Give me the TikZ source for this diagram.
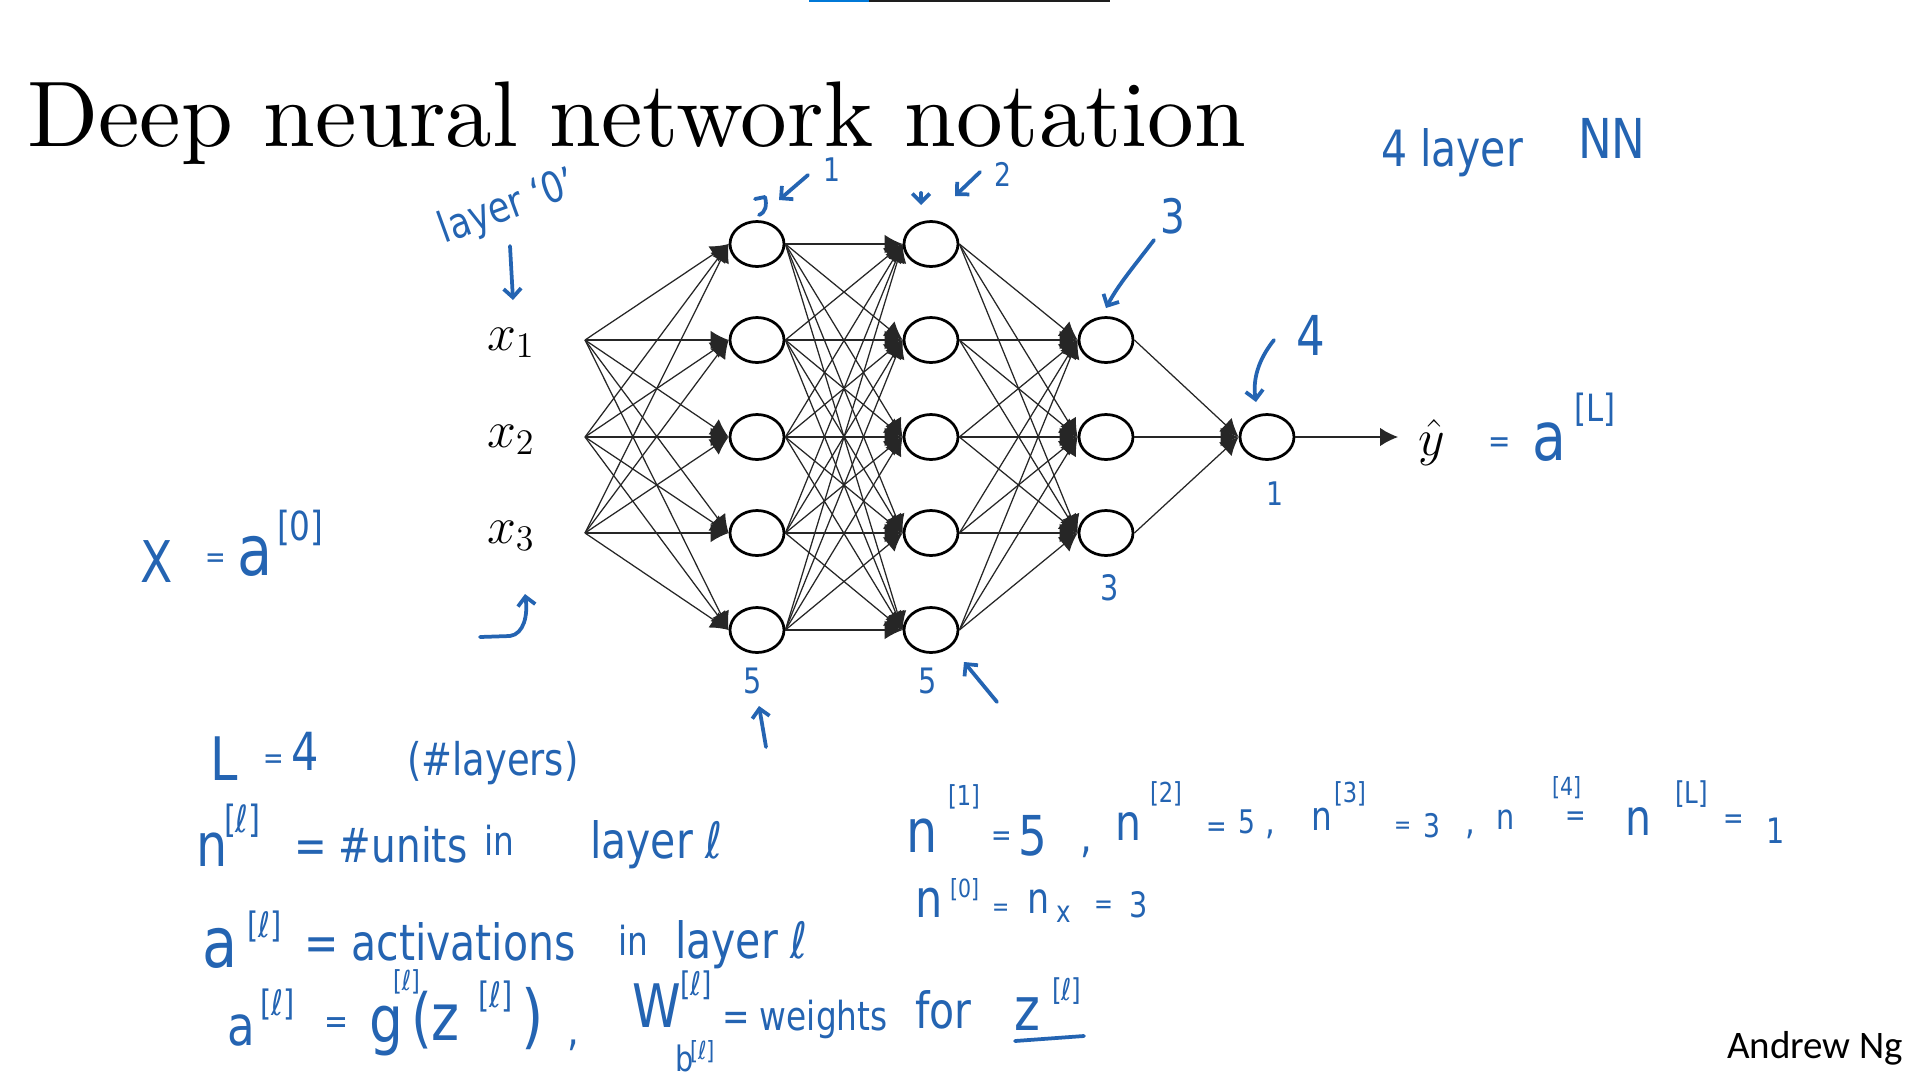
\documentclass[tikz,border=0pt]{standalone}
\usepackage{fontspec}
\usetikzlibrary{shapes.geometric,arrows.meta}
\newfontfamily\hwfontfam[FakeStretch=0.82]{DejaVu Sans}
\newfontfamily\ngfont{Carlito}
\newfontfamily\titlefont{lmroman10-regular.otf}
\definecolor{hwblue}{RGB}{36,100,178}
\definecolor{barblue}{RGB}{0,120,215}
\definecolor{bardark}{RGB}{30,30,30}
\newcommand\hwt[4]{\node[hw,font={\hwfontfam\fontsize{#3}{#3}\selectfont}] (#1) at (#2) {#4};}
\tikzset{
  hw/.style={text=hwblue, inner sep=0pt, outer sep=0pt, anchor=base west},
  neuron/.style={ellipse, draw, line width=1.1pt, minimum width=21.6pt, minimum height=18pt, inner sep=0pt, fill=white},
  edge/.style={draw=black!85, line width=0.5pt, -{Latex[length=7.2pt,width=7.4pt]}},
  hwline/.style={draw=hwblue, line width=1.5pt, line cap=round, line join=round},
  hwarrow/.style={hwline, -{Straight Barb[length=3.5pt,width=7pt]}},
  plain/.style={inner sep=0pt, outer sep=0pt, anchor=base west}
}
\begin{document}
\begin{tikzpicture}[x=0.4pt,y=-0.4pt]
\fill[white] (0,0) rectangle (1920,1080);
\useasboundingbox (0,0) rectangle (1920,1080);
% top bar
\fill[barblue] (809,0) rectangle (869,1.6);
\fill[bardark] (869,0) rectangle (1110,1.6);
% title
\node[plain, font=\titlefont\fontsize{37.3}{40}\selectfont] (title) at (27,146) {Deep neural network notation};
% inputs
\coordinate (in1) at (585,340);
\coordinate (in2) at (585,437);
\coordinate (in3) at (585,533);
\node[plain, font=\fontsize{20.74}{21}\selectfont] (x1) at (487,350) {$x_1$};
\node[plain, font=\fontsize{20.74}{21}\selectfont] (x2) at (487,447) {$x_2$};
\node[plain, font=\fontsize{20.74}{21}\selectfont] (x3) at (487,543) {$x_3$};
% neurons
\foreach \i/\y in {1/244,2/340,3/437,4/533,5/630} {
  \node[neuron] (a\i) at (757,\y) {};
  \node[neuron] (b\i) at (931,\y) {};
}
\node[neuron] (c1) at (1106,340) {};
\node[neuron] (c2) at (1106,437) {};
\node[neuron] (c3) at (1106,533) {};
\node[neuron] (d1) at (1267,437) {};
% edges
\foreach \s in {1,2,3} \foreach \t in {1,...,5} \draw[edge] (in\s) -- (a\t.west);
\foreach \s in {1,...,5} \foreach \t in {1,...,5} \draw[edge] (a\s.east) -- (b\t.west);
\foreach \s in {1,...,5} \foreach \t in {1,2,3} \draw[edge] (b\s.east) -- (c\t.west);
\foreach \s in {1,2,3} \draw[edge] (c\s.east) -- (d1.west);
\coordinate (yout) at (1398,437);
\draw[edge] (d1.east) -- (yout);
\node[plain, font=\fontsize{20.74}{21}\selectfont] (yhat) at (1418,455) {$\hat{y}$};
% handwriting: top
\hwt{fourlayer}{1381,166}{20}{4 layer}
\hwt{nn}{1578,158}{22}{NN}
\node[hw, anchor=center, rotate=20, font={\hwfontfam\fontsize{17}{17}\selectfont}] (layer0) at (508,208) {layer ‘0’};
\draw[hwarrow] (510,246) -- (513,300);
\hwt{lab1}{823,181}{13}{1}
\draw[hwarrow] (808,175) -- (779,200);
\draw[hwline] (755,199) -- (765,197) .. controls (767,205) and (766,212) .. (759,215);
\hwt{lab2}{994,186}{13}{2}
\draw[hwarrow] (980,172) -- (955,196);
\draw[hwarrow] (921,193) -- (921,205);
\hwt{lab3}{1160,233}{19}{3}
\draw[hwarrow] (1154,240) .. controls (1135,265) and (1118,285) .. (1106,308);
\hwt{lab4}{1296,355}{22}{4}
\draw[hwarrow] (1274,340) .. controls (1262,355) and (1252,375) .. (1256,402);
\hwt{labd}{1266,505}{13}{1}
\hwt{labc}{1100,600}{14}{3}
\hwt{laba}{743,693}{14}{5}
\draw[hwarrow] (766,747) -- (759,706);
\hwt{labb}{918,693}{14}{5}
\draw[hwarrow] (997,702) -- (964,662);
% X = a[0]
\hwt{xX}{140,582}{23}{X}
\hwt{xeq}{205,567}{12}{=}
\hwt{xa}{237,575}{28}{a}
\hwt{xsup}{277,540}{16}{[0]}
\draw[hwarrow] (480,637) -- (510,636) .. controls (524,634) and (528,615) .. (525,594);
% yhat = a[L]
\hwt{yeq}{1488,452}{13}{=}
\hwt{ya}{1532,460}{27}{a}
\hwt{ysup}{1574,421}{15}{[L]}
% L = 4 (#layers)
\hwt{Lv}{210,780}{24}{L}
\hwt{Leq}{263,768}{12}{=}
\hwt{L4}{291,770}{21}{4}
\hwt{Lpar}{407,775}{18}{(\#layers)}
% n[l] = #units in layer l
\hwt{nl}{196,866}{24}{n}
\hwt{nlsup}{224,832}{15}{[ℓ]}
\hwt{nleq}{294,862}{19}{= \#units}
\hwt{nlin}{484,855}{16}{in}
\hwt{nllayer}{590,858}{20}{layer ℓ}
% a[l] = activations in layer l
\hwt{al}{202,967}{28}{a}
\hwt{alsup}{247,937}{14}{[ℓ]}
\hwt{aleq}{304,960}{20}{= activations}
\hwt{alin}{618,955}{16}{in}
\hwt{allayer}{675,958}{20}{layer ℓ}
% a[l] = g[l](z[l]) ,
\hwt{ga}{227,1045}{22}{a}
\hwt{gasup}{260,1015}{14}{[ℓ]}
\hwt{geq}{324,1033}{14}{=}
\hwt{gg}{369,1042}{26}{g}
\hwt{ggsup}{393,990}{11}{[ℓ]}
\hwt{gz}{411,1040}{26}{(z}
\hwt{gzsup}{478,1007}{14}{[ℓ]}
\hwt{gpar}{521,1040}{28}{)}
\hwt{gcomma}{567,1045}{18}{,}
% W[l] = weights for z[l]
\hwt{W}{632,1027}{24}{W}
\hwt{Wsup}{680,995}{13}{[ℓ]}
\hwt{Wb}{675,1071}{14}{b}
\hwt{Wbsup}{690,1059}{10}{[ℓ]}
\hwt{Weq}{722,1030}{16}{= weights}
\hwt{Wfor}{915,1028}{20}{for}
\hwt{Wz}{1014,1030}{24}{z}
\hwt{Wzsup}{1052,1000}{12}{[ℓ]}
\draw[hwline] (1015,1041) -- (1084,1036);
% n[1] = 5, ...
\hwt{na}{906,852}{24}{n}
\hwt{nasup}{948,805}{11}{[1]}
\hwt{naeq}{991,845}{12}{=}
\hwt{na5}{1018,855}{22}{5}
\hwt{nacomma}{1080,852}{18}{,}
\hwt{nb}{1115,840}{20}{n}
\hwt{nbsup}{1150,802}{11}{[2]}
\hwt{nbeq}{1206,836}{12}{=}
\hwt{nb5}{1238,833}{13}{5}
\hwt{nbcomma}{1265,834}{15}{,}
\hwt{nc}{1311,830}{16}{n}
\hwt{ncsup}{1334,802}{11}{[3]}
\hwt{nceq}{1394,833}{10}{=}
\hwt{nc3}{1423,837}{13}{3}
\hwt{nccomma}{1465,834}{15}{,}
\hwt{nd}{1496,829}{14}{n}
\hwt{ndsup}{1552,795}{10}{[4]}
\hwt{ndeq}{1565,825}{12}{=}
\hwt{ne}{1625,835}{20}{n}
\hwt{nesup}{1675,803}{12}{[L]}
\hwt{neeq}{1723,828}{12}{=}
\hwt{ne1}{1766,843}{14}{1}
% n[0] = n_x = 3
\hwt{nf}{915,917}{21}{n}
\hwt{nfsup}{950,897}{10}{[0]}
\hwt{nfeq}{992,915}{10}{=}
\hwt{ng}{1027,913}{17}{n}
\hwt{ngsub}{1056,922}{12}{x}
\hwt{ngeq}{1094,913}{11}{=}
\hwt{ng3}{1129,917}{14}{3}
% footer
\node[plain, font=\ngfont\fontsize{15.6}{16}\selectfont] (andrew) at (1727,1058) {Andrew Ng};
\end{tikzpicture}
\end{document}
